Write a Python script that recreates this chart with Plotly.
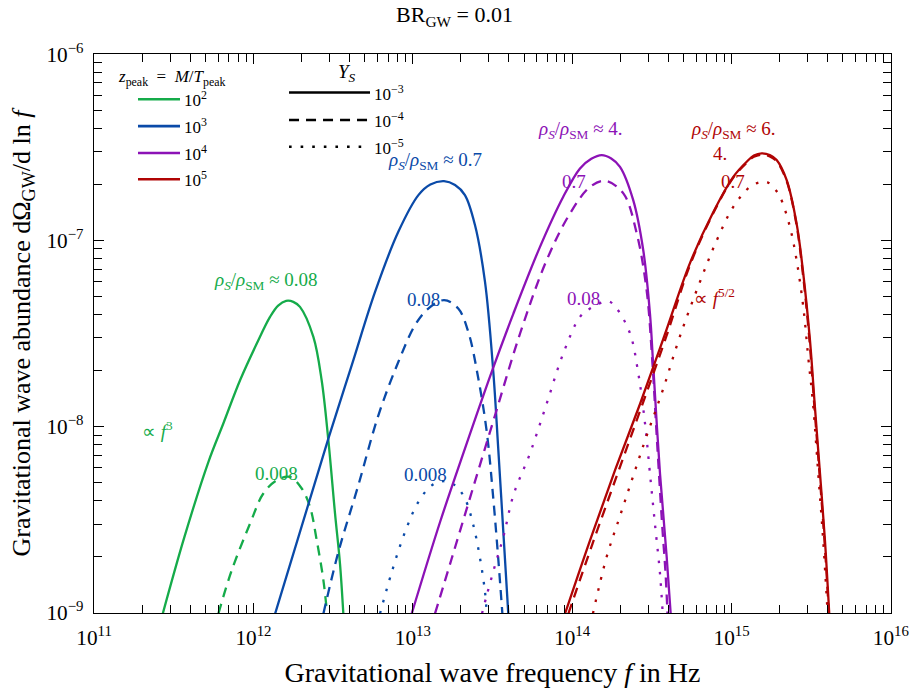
import plotly.graph_objects as go

# ---------------- data (log10 f [Hz], log10 dOmega_GW/dlnf) ----------------
# z_peak = 1e2 (green)
green_solid_logf = [11.431, 11.567, 11.717, 11.811, 11.916, 12.021, 12.104, 12.155, 12.205, 12.250, 12.292, 12.376, 12.428, 12.470, 12.512, 12.543, 12.564]
green_solid_logO = [-9.004, -8.592, -8.190, -7.983, -7.751, -7.554, -7.411, -7.350, -7.325, -7.330, -7.357, -7.518, -7.751, -8.073, -8.467, -8.735, -9.004]
green_dash_logf = [11.780, 11.864, 11.979, 12.062, 12.146, 12.230, 12.303, 12.355, 12.397, 12.439, 12.462]
green_dash_logO = [-9.004, -8.771, -8.520, -8.359, -8.288, -8.270, -8.332, -8.431, -8.610, -8.825, -9.004]

# z_peak = 1e3 (blue)
blue_solid_logf = [12.136, 12.470, 12.617, 12.763, 12.909, 13.035, 13.110, 13.196, 13.265, 13.327, 13.390, 13.453, 13.505, 13.536, 13.568, 13.599]
blue_solid_logO = [-9.004, -8.064, -7.670, -7.277, -6.954, -6.757, -6.700, -6.682, -6.703, -6.757, -6.918, -7.223, -7.706, -8.118, -8.566, -9.004]
blue_dash_logf = [12.439, 12.533, 12.658, 12.784, 12.909, 13.014, 13.097, 13.196, 13.285, 13.348, 13.411, 13.464, 13.505, 13.536, 13.562]
blue_dash_logO = [-9.004, -8.673, -8.315, -7.939, -7.653, -7.455, -7.366, -7.321, -7.366, -7.491, -7.742, -8.028, -8.386, -8.708, -9.004]
blue_dot_logf = [12.794, 12.868, 12.951, 13.035, 13.119, 13.189, 13.265, 13.327, 13.380, 13.422, 13.453, 13.464]
blue_dot_logO = [-9.004, -8.780, -8.566, -8.404, -8.315, -8.293, -8.315, -8.386, -8.530, -8.708, -8.888, -9.004]

# z_peak = 1e4 (purple)
purple_solid_logf = [12.993, 13.171, 13.327, 13.495, 13.631, 13.798, 13.944, 14.049, 14.120, 14.185, 14.245, 14.300, 14.383, 14.446, 14.488, 14.509, 14.551, 14.593, 14.618]
purple_solid_logO = [-9.004, -8.512, -8.118, -7.706, -7.393, -7.035, -6.766, -6.614, -6.562, -6.542, -6.560, -6.605, -6.784, -7.053, -7.393, -7.679, -8.252, -8.700, -9.004]
purple_dash_logf = [13.139, 13.244, 13.370, 13.516, 13.673, 13.840, 13.986, 14.112, 14.206, 14.321, 14.405, 14.467, 14.501, 14.532, 14.564, 14.586, 14.598]
purple_dash_logO = [-9.004, -8.708, -8.351, -7.939, -7.500, -7.106, -6.856, -6.713, -6.680, -6.748, -6.963, -7.267, -7.626, -8.073, -8.520, -8.789, -9.004]
purple_dot_logf = [13.434, 13.464, 13.516, 13.568, 13.631, 13.735, 13.840, 13.944, 14.049, 14.112, 14.226, 14.279, 14.363, 14.415, 14.457, 14.488, 14.519, 14.551, 14.568]
purple_dot_logO = [-9.004, -8.905, -8.744, -8.592, -8.368, -8.144, -7.876, -7.607, -7.411, -7.366, -7.327, -7.366, -7.500, -7.715, -7.983, -8.252, -8.520, -8.789, -9.004]

# z_peak = 1e5 (red)
red_solid_logf = [13.955, 14.112, 14.269, 14.425, 14.582, 14.739, 14.885, 15.011, 15.095, 15.140, 15.189, 15.240, 15.283, 15.346, 15.408, 15.450, 15.492, 15.523, 15.555, 15.586, 15.613]
red_solid_logO = [-9.004, -8.610, -8.234, -7.880, -7.504, -7.122, -6.849, -6.659, -6.578, -6.545, -6.533, -6.542, -6.569, -6.677, -6.909, -7.178, -7.536, -7.894, -8.252, -8.610, -9.004]
red_dash_logf = [13.976, 14.124, 14.281, 14.432, 14.589, 14.739, 14.885, 15.011, 15.095, 15.140, 15.189, 15.240, 15.283, 15.346, 15.407, 15.448, 15.489, 15.520, 15.552, 15.583, 15.611]
red_dash_logO = [-9.004, -8.637, -8.261, -7.901, -7.520, -7.133, -6.854, -6.663, -6.583, -6.551, -6.540, -6.549, -6.575, -6.682, -6.913, -7.182, -7.536, -7.894, -8.252, -8.610, -9.004]
red_dot_logf = [14.130, 14.216, 14.300, 14.383, 14.467, 14.572, 14.676, 14.802, 14.907, 15.011, 15.115, 15.170, 15.220, 15.265, 15.304, 15.366, 15.408, 15.450, 15.481, 15.513, 15.544, 15.575, 15.603]
red_dot_logO = [-9.004, -8.700, -8.480, -8.265, -8.050, -7.795, -7.515, -7.222, -7.000, -6.820, -6.713, -6.690, -6.686, -6.718, -6.766, -6.927, -7.106, -7.357, -7.626, -7.894, -8.252, -8.610, -9.004]

# axis ranges (log10), decade ticks labelled as powers of ten
x_range_log = [10.9995, 16.0005]
y_range_log = [-9.0005, -5.9995]

# legend entries
z_peak_labels = ["10<sup>2</sup>", "10<sup>3</sup>", "10<sup>4</sup>", "10<sup>5</sup>"]
y_s_labels = ["10<sup>\u22123</sup>", "10<sup>\u22124</sup>", "10<sup>\u22125</sup>"]

# curve annotations: (text, log10 f, log10 Omega, colour key)
RHO = "<i>\u03c1<sub>S</sub></i>/<i>\u03c1</i><sub>SM</sub> \u2248 "
label_texts = [RHO + "0.08", "\u221d <i>f</i><sup>3</sup>", "0.008",
               RHO + "0.7", "0.08", "0.008",
               RHO + "4.", "0.7", "0.08",
               RHO + "6.", "4.", "0.7", "\u221d <i>f</i><sup>5/2</sup>"]
label_logf = [12.079, 11.40, 12.142, 13.139, 13.070, 13.080, 14.055, 14.011, 14.068, 15.015, 14.927, 15.012, 14.890]
label_logO = [-7.219, -8.019, -8.250, -6.575, -7.316, -8.256, -6.408, -6.686, -7.310, -6.408, -6.532, -6.685, -7.305]
label_colour = ["g", "g", "g", "b", "b", "b", "p", "p", "p", "r", "r", "r", "r"]

# ---------------- styling ----------------
FONT = "Liberation Serif"
COL = {"g": "#15ab4a", "b": "#0a4aa8", "p": "#8c12b6", "r": "#b00404"}
DASH = {"solid": "solid", "dash": "10px,7px", "dot": "2.6px,9px"}
LW = 2.3

fig = go.Figure()


def add_curve(logf, logO, ckey, style):
    fig.add_trace(go.Scatter(
        x=[10 ** v for v in logf], y=[10 ** v for v in logO], mode="lines",
        line=dict(color=COL[ckey], width=LW, dash=DASH[style], shape="spline", smoothing=1.0),
        showlegend=False, hoverinfo="skip"))


add_curve(green_solid_logf, green_solid_logO, "g", "solid")
add_curve(green_dash_logf, green_dash_logO, "g", "dash")
add_curve(blue_solid_logf, blue_solid_logO, "b", "solid")
add_curve(blue_dash_logf, blue_dash_logO, "b", "dash")
add_curve(blue_dot_logf, blue_dot_logO, "b", "dot")
add_curve(purple_solid_logf, purple_solid_logO, "p", "solid")
add_curve(purple_dash_logf, purple_dash_logO, "p", "dash")
add_curve(purple_dot_logf, purple_dot_logO, "p", "dot")
add_curve(red_dot_logf, red_dot_logO, "r", "dot")
add_curve(red_dash_logf, red_dash_logO, "r", "dash")
add_curve(red_solid_logf, red_solid_logO, "r", "solid")

# empty traces so that the mirrored (top / right) tick axes are drawn
fig.add_trace(go.Scatter(x=[None], y=[None], xaxis="x2", yaxis="y", showlegend=False, hoverinfo="skip"))
fig.add_trace(go.Scatter(x=[None], y=[None], xaxis="x", yaxis="y2", showlegend=False, hoverinfo="skip"))

annotations = []
for t, lx, ly, c in zip(label_texts, label_logf, label_logO, label_colour):
    annotations.append(dict(text=t, x=lx, y=ly, xref="x", yref="y", showarrow=False,
                            xanchor="center", yanchor="middle",
                            font=dict(family=FONT, size=19, color=COL[c])))

# legend (drawn in paper coordinates)
NB = "\u00a0"
shapes = []
annotations.append(dict(text="<i>z</i><sub>peak</sub>" + NB * 2 + "=" + NB * 2 + "<i>M</i>/<i>T</i><sub>peak</sub>",
                        x=0.0979, y=0.957,
                        xref="paper", yref="paper", showarrow=False, xanchor="center", yanchor="middle",
                        font=dict(family=FONT, size=17, color="black")))
zy = [0.919, 0.871, 0.823, 0.776]
for lab, yy, c in zip(z_peak_labels, zy, ["g", "b", "p", "r"]):
    shapes.append(dict(type="line", xref="paper", yref="paper", x0=0.0552, x1=0.1079, y0=yy, y1=yy,
                       line=dict(color=COL[c], width=2.6)))
    annotations.append(dict(text=lab, x=0.1104, y=yy, xref="paper", yref="paper", showarrow=False,
                            xanchor="left", yanchor="middle", font=dict(family=FONT, size=17, color="black")))
annotations.append(dict(text="<i>Y<sub>S</sub></i>", x=0.3174, y=0.966, xref="paper", yref="paper",
                        showarrow=False, xanchor="center", yanchor="middle",
                        font=dict(family=FONT, size=19, color="black")))
sy = [0.931, 0.882, 0.834]
for lab, yy, st in zip(y_s_labels, sy, ["solid", "dash", "dot"]):
    shapes.append(dict(type="line", xref="paper", yref="paper", x0=0.2447, x1=0.3463, y0=yy, y1=yy,
                       line=dict(color="black", width=2.6, dash=DASH[st])))
    annotations.append(dict(text=lab, x=0.3488, y=yy, xref="paper", yref="paper", showarrow=False,
                            xanchor="left", yanchor="middle", font=dict(family=FONT, size=17, color="black")))

axis_common = dict(type="log", dtick=1, exponentformat="power", automargin=False,
                   ticks="inside", ticklen=10, tickwidth=1.3, tickcolor="black",
                   showline=True, linecolor="black", linewidth=1.2, showgrid=False,
                   minor=dict(ticks="inside", ticklen=8, tickwidth=1.2, tickcolor="black", showgrid=False),
                   tickfont=dict(family=FONT, size=17, color="black"))

fig.update_layout(
    width=909, height=688,
    margin=dict(l=94, r=18, t=54, b=75),
    paper_bgcolor="white", plot_bgcolor="white",
    font=dict(family=FONT, size=18, color="black"),
    title=dict(text="BR<sub>GW</sub> = 0.01", x=0.5, xref="container", xanchor="center",
               y=0.979, yref="container", yanchor="middle", font=dict(family=FONT, size=22, color="black")),
    xaxis=dict(axis_common, range=x_range_log, mirror=True, ticklabelstandoff=6,
               title=dict(text="Gravitational wave frequency <i>f</i> in Hz", standoff=14,
                          font=dict(family=FONT, size=28, color="black"))),
    xaxis2=dict(axis_common, range=x_range_log, overlaying="x", side="top", anchor="y",
                showticklabels=False),
    yaxis=dict(axis_common, range=y_range_log, mirror=True, ticklabelstandoff=6,
               title=dict(text="Gravitational wave abundance d\u03a9<sub>GW</sub>/d ln <i>f</i>", standoff=8,
                          font=dict(family=FONT, size=26, color="black"))),
    yaxis2=dict(axis_common, range=y_range_log, overlaying="y", side="right", anchor="x",
                showticklabels=False),
    annotations=annotations,
    shapes=shapes,
)

fig.write_html("out.html", config={"displayModeBar": False},
               post_script="document.body.style.margin='0px';")
